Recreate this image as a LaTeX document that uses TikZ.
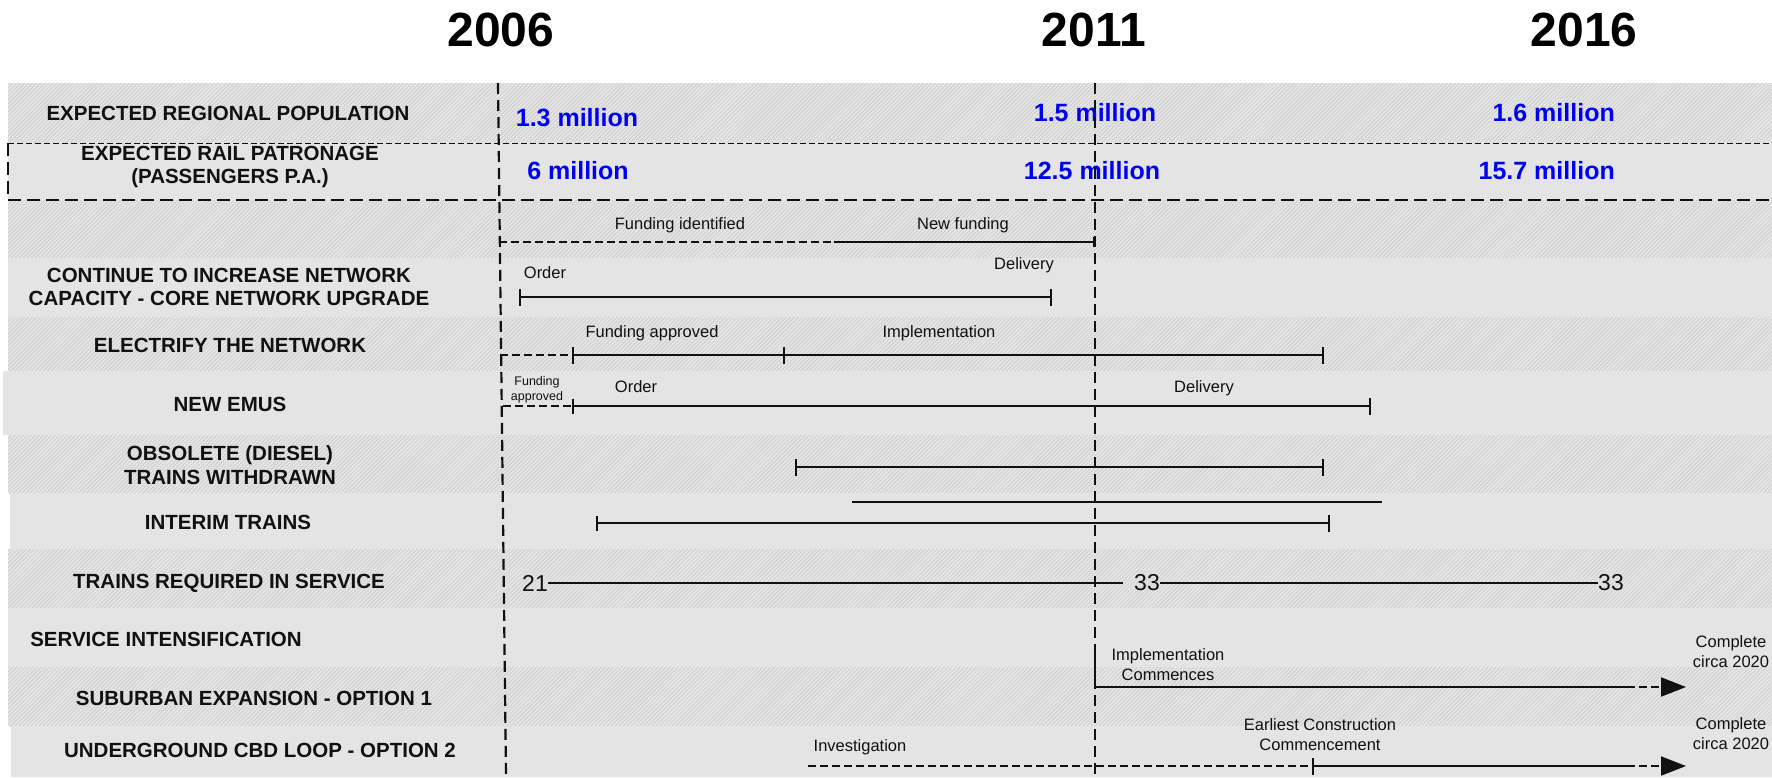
\documentclass[tikz,border=0pt]{standalone}
\usepackage{fontspec}
\setmainfont{Liberation Sans}
\usetikzlibrary{arrows.meta,patterns.meta}
\definecolor{bandgray}{HTML}{E4E4E4}
\definecolor{hatchgray}{HTML}{C4C4C4}
\definecolor{valblue}{HTML}{0000F0}
\definecolor{ink}{HTML}{111111}
\tikzset{
  solidband/.style={fill=bandgray, draw=none},
  hatchband/.style={fill=bandgray, draw=none,
    postaction={pattern={Lines[angle=45,distance=2.85pt,line width=0.45pt]}, pattern color=hatchgray}},
  rowlabel/.style={font=\bfseries\fontsize{20.5}{23.5}\selectfont, align=center, inner sep=0pt, text=ink},
  val/.style={font=\bfseries\fontsize{25}{28}\selectfont, text=valblue, inner sep=0pt},
  note/.style={font=\fontsize{16.5}{20}\selectfont, align=center, inner sep=0pt, text=ink},
  smallnote/.style={font=\fontsize{12.5}{15}\selectfont, align=center, inner sep=0pt, text=ink},
  count/.style={font=\fontsize{23}{25}\selectfont, inner sep=0pt, text=ink},
  yearlabel/.style={font=\bfseries\fontsize{48}{50}\selectfont, inner sep=0pt},
  bar/.style={line width=2pt, ink},
  dbar/.style={line width=2pt, ink, dash pattern=on 8pt off 4pt},
  yearline/.style={line width=2.2pt, ink, dash pattern=on 11pt off 6pt},
  finedash/.style={line width=1pt, ink, dash pattern=on 6pt off 3pt},
  bigdash/.style={line width=1.7pt, ink, dash pattern=on 13pt off 6pt},
  tk/.tip={Bar[width=17pt]},
  stk/.tip={Bar[width=10pt]},
  mtk/.tip={Bar[width=15pt]},
  arrowtip/.tip={Triangle[length=25pt,width=19pt]}
}
\begin{document}
\begin{tikzpicture}[x=1pt,y=-1pt]
\useasboundingbox (0,0) rectangle (1772,777);
\fill[white] (0,0) rectangle (1772,777);
% bands
\path[hatchband] (8,83) rectangle (1772,143);
\path[solidband] (8,143) rectangle (1772,200);
\path[hatchband] (8,200) rectangle (1772,258);
\path[solidband] (8,258) rectangle (1772,317);
\path[hatchband] (8,317) rectangle (1772,371);
\path[solidband] (3,371) rectangle (1772,435);
\path[hatchband] (8,435) rectangle (1772,493);
\path[solidband] (10,493) rectangle (1772,549);
\path[hatchband] (8,549) rectangle (1772,608);
\path[solidband] (8,608) rectangle (1772,667);
\path[hatchband] (8,667) rectangle (1772,726);
\path[solidband] (11,726) rectangle (1772,777);

% separators
\coordinate (sepAl) at (8,143); \coordinate (sepAr) at (1772,143);
\coordinate (sepBl) at (8,200); \coordinate (sepBr) at (1772,200);
\draw[finedash] (sepAl) -- (sepAr);
\draw[bigdash] (sepBl) -- (sepBr);
\draw[bigdash] (sepAl) -- (sepBl);

% year titles
\node[yearlabel] (y2006) at (501,30) {2006};
\node[yearlabel] (y2011) at (1094,30) {2011};
\node[yearlabel] (y2016) at (1584,30) {2016};

% row labels
\node[rowlabel] (lpop) at (228,113) {EXPECTED REGIONAL POPULATION};
\node[rowlabel] (lpat) at (230,167) {EXPECTED RAIL PATRONAGE\\(PASSENGERS P.A.)};
\node[rowlabel] (lcap) at (229,287) {CONTINUE TO INCREASE NETWORK\\CAPACITY - CORE NETWORK UPGRADE};
\node[rowlabel] (lele) at (230,345) {ELECTRIFY THE NETWORK};
\node[rowlabel] (lemu) at (230,404) {NEW EMUS};
\node[rowlabel] (lobs) at (230,465) {OBSOLETE (DIESEL)\\TRAINS WITHDRAWN};
\node[rowlabel] (lint) at (228,522) {INTERIM TRAINS};
\node[rowlabel] (lreq) at (229,583) {TRAINS REQUIRED IN SERVICE};
\node[rowlabel] (lsvc) at (166,639) {SERVICE INTENSIFICATION};
\node[rowlabel] (lsub) at (254,698) {SUBURBAN EXPANSION - OPTION 1};
\node[rowlabel] (lund) at (260,750) {UNDERGROUND CBD LOOP - OPTION 2};

% values
\node[val] (p06) at (577,118) {1.3 million};
\node[val] (p11) at (1095,113) {1.5 million};
\node[val, anchor=east] (p16) at (1615,113) {1.6 million};
\node[val] (r06) at (578,171) {6 million};
\node[val] (r11) at (1092,171) {12.5 million};
\node[val, anchor=east] (r16) at (1615,171) {15.7 million};

% row 3 funding
\node[note] (tfid) at (680,225) {Funding identified};
\node[note] (tnf) at (963,225) {New funding};
\coordinate (f0) at (499,242); \coordinate (f1) at (834,242); \coordinate (f2) at (1095,242);
\draw[dbar] (f0) -- (f1);
\draw[bar,-{stk}] (f1) -- (f2);

% row 4 core upgrade
\node[note] (tord1) at (545,273) {Order};
\node[note] (tdel1) at (1024,265) {Delivery};
\coordinate (c0) at (519,297); \coordinate (c1) at (1052,297);
\draw[bar,{tk}-{tk}] (c0) -- (c1);

% row 5 electrify
\node[note] (tfap) at (652,333) {Funding approved};
\node[note] (timp) at (939,333) {Implementation};
\coordinate (e0) at (500,355); \coordinate (e1) at (572,355);
\coordinate (e2) at (785,355); \coordinate (e3) at (1324,355);
\draw[dbar] (e0) -- (e1);
\draw[bar,{tk}-{tk}] (e1) -- (e2);
\draw[bar,-{tk}] (e2) -- (e3);

% row 6 new EMUs
\node[smallnote] (tfap2) at (537,389.5) {Funding\\approved};
\node[note] (tord2) at (636,387) {Order};
\node[note] (tdel2) at (1204,388) {Delivery};
\coordinate (m0) at (503,406); \coordinate (m1) at (572,406); \coordinate (m2) at (1371,406);
\draw[dbar] (m0) -- (m1);
\draw[bar,{mtk}-{tk}] (m1) -- (m2);

% row 7 obsolete
\coordinate (o0) at (795,467); \coordinate (o1) at (1324,467);
\draw[bar,{tk}-{tk}] (o0) -- (o1);

% row 8 interim
\coordinate (i0) at (852,502); \coordinate (i1) at (1382,502);
\draw[bar] (i0) -- (i1);
\coordinate (i2) at (596,523); \coordinate (i3) at (1330,523);
\draw[bar,{mtk}-{tk}] (i2) -- (i3);

% row 9 trains required
\node[count] (n21) at (535,583) {21};
\node[count] (n33a) at (1147,583) {33};
\node[count] (n33b) at (1611,583) {33};
\draw[bar] (n21.east) -- ([xshift=-11pt]n33a.west);
\draw[bar] (n33a.east) -- (n33b.west);

% row 10/11 suburban expansion
\node[note] (timpc) at (1168,665) {Implementation\\Commences};
\node[note] (tcomp1) at (1731,652) {Complete\\circa 2020};
\coordinate (s0) at (1095,653); \coordinate (s1) at (1095,687);
\coordinate (s2) at (1627,687); \coordinate (s3) at (1686,687);
\draw[bar] (s0) -- (s1) -- (s2);
\draw[dbar,-{arrowtip}] (s2) -- (s3);

% row 12 underground loop
\node[note] (tinv) at (860,747) {Investigation};
\node[note] (tecc) at (1320,735) {Earliest Construction\\Commencement};
\node[note] (tcomp2) at (1731,734) {Complete\\circa 2020};
\coordinate (u0) at (808,766); \coordinate (u1) at (1312,766);
\coordinate (u2) at (1627,766); \coordinate (u3) at (1686,766);
\draw[dbar] (u0) -- (u1);
\draw[bar,{tk}-] (u1) -- (u2);
\draw[dbar,-{arrowtip}] (u2) -- (u3);

% year lines
\coordinate (v06t) at (498,83); \coordinate (v06b) at (506,777);
\coordinate (v11t) at (1095,83); \coordinate (v11b) at (1095,777);
\draw[yearline] (v06t) -- (v06b);
\draw[yearline] (v11t) -- (v11b);
\end{tikzpicture}
\end{document}
